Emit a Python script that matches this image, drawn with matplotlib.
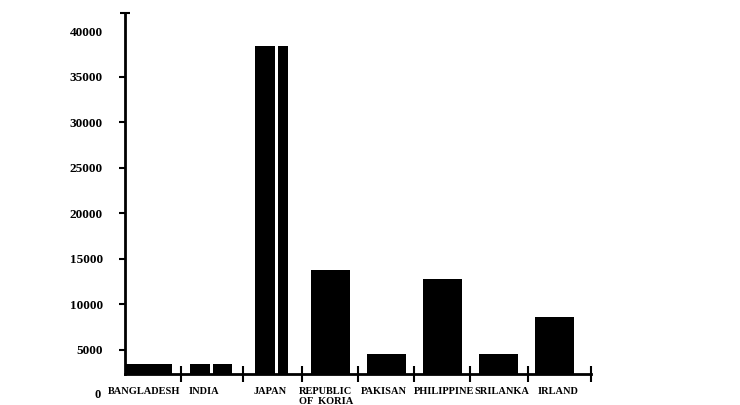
import matplotlib
matplotlib.use("Agg")
import matplotlib.pyplot as plt
import numpy as np

categories = ["BANGLADESH", "INDIA", "JAPAN", "REPUBLIC\nOF  KORIA", "PAKISAN",
              "PHILIPPINE", "SRILANKA", "IRLAND"]
values = [3500, 3500, 38400, 13800, 4600, 12800, 4600, 8600]
yticks = [5000, 10000, 15000, 20000, 25000, 30000, 35000, 40000]
ytick_labels = ["5000", "10000", "15000", "20000", "25000", "30000", "35000", "40000"]

# layout (axis units, x range 0..8)
bar_lefts = [0.0, 1.116, 2.232, 3.193, 4.155, 5.116, 6.077, 7.039]
bar_widths = [0.807, 0.721, 0.566, 0.67, 0.67, 0.67, 0.67, 0.67]
split_pos = {1: 1.485, 2: 2.601}      # white split inside India and Japan bars
boundary_ticks = [0.961, 2.026, 3.039, 4.0, 4.961, 5.923, 6.918, 8.0]
label_pos = [0.33, 1.36, 2.49, 3.45, 4.45, 5.47, 6.47, 7.44]

plt.rcParams['font.family'] = ['Liberation Serif', 'DejaVu Serif']
plt.rcParams['font.weight'] = 'bold'

fig = plt.figure(figsize=(7.4, 4.05), dpi=100)
ax = fig.add_axes([125/740, 31/405, (591-125)/740, (374-13)/405])

ymin, ymax = 2360, 42000
heights = np.array(values) - ymin
ax.bar(bar_lefts, heights, width=bar_widths, bottom=ymin, align='edge',
       color='black', edgecolor='none')
for i, xs in split_pos.items():
    ax.bar(xs, values[i] - ymin, width=0.052, bottom=ymin, align='center',
           color='white', edgecolor='none')

ax.set_xlim(0, len(categories))
ax.set_ylim(ymin, ymax)

for s in ['top', 'right']:
    ax.spines[s].set_visible(False)
for s in ['left', 'bottom']:
    ax.spines[s].set_linewidth(2)

# y ticks
ax.set_yticks(yticks)
ax.set_yticklabels(ytick_labels, fontsize=9.5, fontweight='bold')
ax.tick_params(axis='y', which='major', direction='out', length=4, width=1.5, pad=12)
ax.yaxis.get_major_ticks()[-1].tick1line.set_visible(False)
ax.set_yticks([ymax], minor=True)
ax.tick_params(axis='y', which='minor', direction='inout', length=7, width=1.5)
ax.text(-0.47, 0, "0", transform=ax.transData, ha='center', va='center',
        fontsize=9, fontweight='bold', clip_on=False)

# x ticks at category boundaries
ax.set_xticks(boundary_ticks)
ax.set_xticklabels([])
ax.tick_params(axis='x', which='major', direction='inout', length=11, width=1.5)
ax.set_xticks(label_pos, minor=True)
ax.set_xticklabels(categories, minor=True, fontsize=7.5, fontweight='bold',
                   linespacing=1.25)
ax.tick_params(axis='x', which='minor', length=0, pad=9)
for lab in ax.get_xticklabels(minor=True):
    lab.set_verticalalignment('top')

fig.savefig("out.png", dpi=100)
